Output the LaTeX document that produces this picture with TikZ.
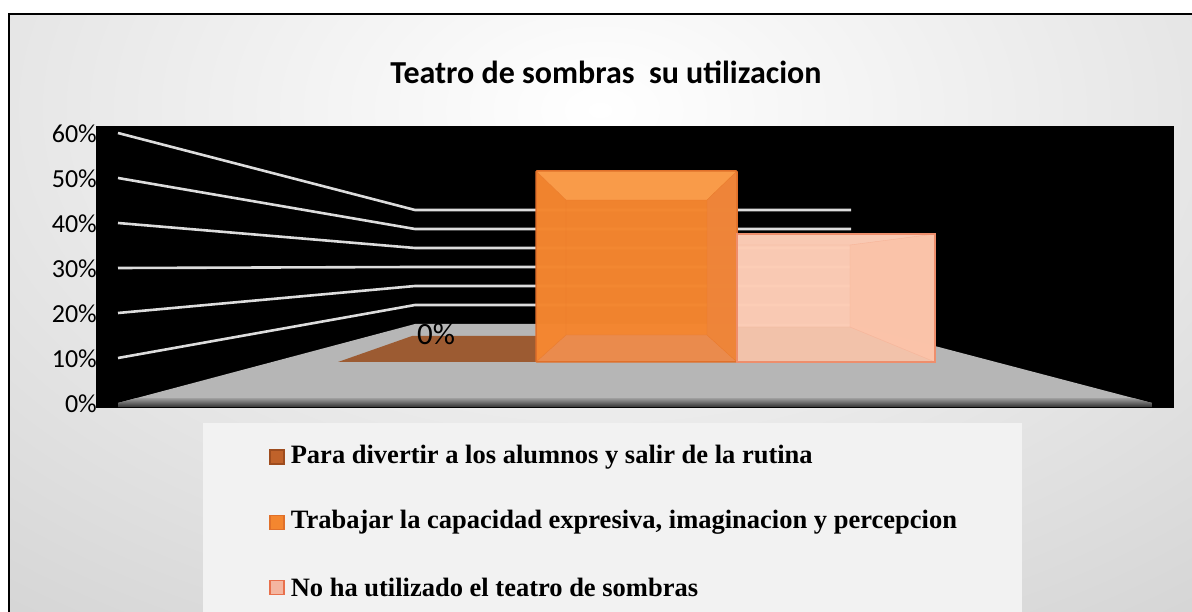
\documentclass[tikz,border=0pt]{standalone}
\usepackage{fontspec}
\setmainfont{Liberation Serif}
\newfontfamily\calibri{Carlito}
\usepackage{xcolor}
\usepackage{tikz}
\usetikzlibrary{positioning}
\usetikzlibrary{backgrounds}
\definecolor{bggray}{HTML}{C4C4C4}
\definecolor{floorgray}{HTML}{B6B6B6}
\definecolor{gridgray}{HTML}{DCDCDC}
\definecolor{legendgray}{HTML}{F2F2F2}
\definecolor{barbrown}{HTML}{9C5B32}
\definecolor{markbrown}{HTML}{C0622A}
\definecolor{edgebrown}{HTML}{9E4C1E}
\definecolor{barorange}{HTML}{F4862F}
\definecolor{orangelight}{HTML}{FA9C4A}
\definecolor{orangemute}{HTML}{EA8C4E}
\definecolor{orangeside}{HTML}{EE853A}
\definecolor{orangeedge}{HTML}{E0702A}
\definecolor{barpink}{HTML}{FDCDB6}
\definecolor{pinkside}{HTML}{FBC3A9}
\definecolor{pinkbottom}{HTML}{F2C2AA}
\definecolor{pinkedge}{HTML}{EE8E6C}
\definecolor{markpink}{HTML}{F4B6A0}
\definecolor{edgepink}{HTML}{E8704C}
\tikzstyle{gridline} = [draw=gridgray, line width=2.6pt]
\tikzstyle{legmark} = [draw, line width=1.2pt, minimum size=14pt, inner sep=0pt]
\tikzstyle{legtext} = [font=\bfseries\fontsize{26.5}{30}\selectfont, inner sep=0pt]

\begin{document}
\begin{tikzpicture}[x=1pt, y=-1pt,
      axislabel/.style={font=\calibri\fontsize{26}{29}\selectfont,
      anchor=east,
      inner sep=0pt}]
    \useasboundingbox (0,0) rectangle (1192,612);
    %% Background frame
    \begin{scope}
      \clip (9,14) rectangle (1192,612);
      \shade [inner color=white, outer color=bggray] (600,110) ellipse (1400 and 900);
    \end{scope}
    \draw [line width=2pt] (9,640) -- (9,14) -- (1200,14);
    \node [font=\calibri\bfseries\fontsize{32}{36}\selectfont] (title) at (606,72) {Teatro de sombras \ su utilizacion};
    %% Plot area
    \fill [black] (96,126) rectangle (1174,408);
    \fill [floorgray] (118,403) -- (415,324) -- (851,324) -- (1152,403) -- cycle;
    \begin{scope}
      \clip (118,407) -- (118,403) -- (415,324) -- (851,324) -- (1152,403) -- (1152,407) -- cycle;
      \shade [top color=gray!75, bottom color=black!80] (118,398) rectangle (1152,407);
    \end{scope}
    \foreach \l/\b in {133/210, 178/229, 223/248, 268/267, 313/286, 358/305}
      \draw [gridline] (118,\l) -- (415,\b) -- (851,\b);
    \foreach \v/\yy in {0/404, 10/359, 20/314, 30/269, 40/224, 50/179, 60/134}
      \node [axislabel] (y\v) at (97,\yy) {\v\%};
    %% Bars
    \fill [barbrown] (338,362) -- (412,336) -- (536,336) -- (536,362) -- cycle;
    \node [font=\calibri\fontsize{31}{34}\selectfont, inner sep=0pt] (val0) at (436,334) {0\%};
    \begin{scope}[fill opacity=0.985]
      \fill [barorange] (536,171) rectangle (737,362);
      \fill [orangelight] (536,171) -- (737,171) -- (707,200) -- (566,200) -- cycle;
      \fill [orangemute] (536,362) -- (737,362) -- (707,335) -- (566,335) -- cycle;
      \fill [orangeside] (737,171) -- (737,362) -- (707,335) -- (707,200) -- cycle;
    \end{scope}
    \draw [orangeedge!50!barorange, thin] (566,200) rectangle (707,335)
      (536,171) -- (566,200) (737,171) -- (707,200) (536,362) -- (566,335) (737,362) -- (707,335);
    \draw [orangeedge, line width=1.5pt, rounded corners=1pt] (536,171) rectangle (737,362);
    \begin{scope}[fill opacity=0.985]
      \fill [barpink] (737,234) rectangle (935,362);
      \fill [pinkside] (935,234) -- (935,362) -- (850,327) -- (850,245) -- cycle;
      \fill [pinkbottom] (737,362) -- (935,362) -- (850,327) -- (737,327) -- cycle;
    \end{scope}
    \draw [pinkedge!40!barpink, thin] (737,245) -- (850,245) -- (850,327) -- (737,327)
      (850,245) -- (935,234) (850,327) -- (935,362);
    \draw [pinkedge, line width=1.5pt] (737,234) rectangle (935,362);
    %% Legend
    \fill [legendgray] (203,423) rectangle (1022,612);
    \node [legmark, fill=markbrown, draw=edgebrown] (m1) at (277,457) {};
    \node [legmark, fill=barorange, draw=orangeedge, below=50pt of m1] (m2) {};
    \node [legmark, fill=markpink, draw=edgepink, below=50pt of m2] (m3) {};
    \node [legtext, right=6pt of m1] (t1) {Para divertir a los alumnos y salir de la rutina};
    \node [legtext, right=6pt of m2] (t2) {Trabajar la capacidad expresiva, imaginacion y percepcion};
    \node [legtext, right=6pt of m3] (t3) {No ha utilizado el teatro de sombras};
  \end{tikzpicture}
\end{document}
